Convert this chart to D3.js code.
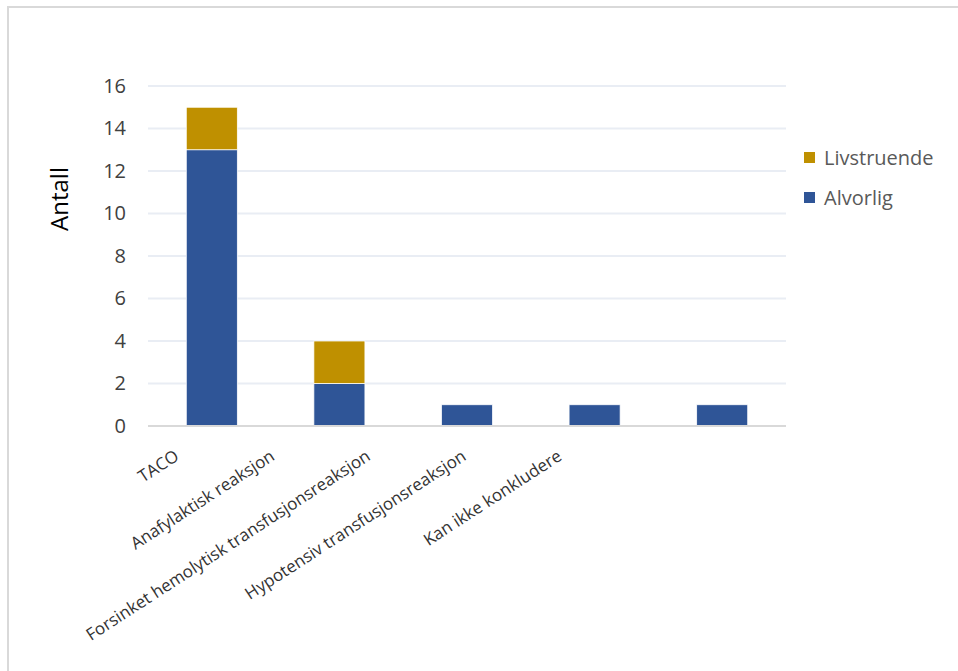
<!DOCTYPE html>
<html>
<head>
<meta charset="utf-8">
<script src="https://cdn.jsdelivr.net/npm/d3@7"></script>
<style>
body{margin:0;background:#fff;}
svg{display:block;font-family:"Open Sans","Noto Sans",sans-serif;}
</style>
</head>
<body>
<div id="chart"></div>
<script>
// data
var categories = ["TACO","Anafylaktisk reaksjon","Forsinket hemolytisk transfusjonsreaksjon","Hypotensiv transfusjonsreaksjon","Kan ikke konkludere"];
var alvorlig = [13,2,1,1,1];
var livstruende = [2,2,0,0,0];
var seriesNames = ["Alvorlig","Livstruende"];
var seriesColors = ["#2F5597","#BF9000"];
var yTicks = [0,2,4,6,8,10,12,14,16];

var W = 958, H = 671;
var margin = {left:148, right:172, top:86, bottom:245};

var svg = d3.select("#chart").append("svg").attr("width",W).attr("height",H);

// border (top + left only visible)
svg.append("line").attr("x1",7).attr("x2",W).attr("y1",7).attr("y2",7).attr("stroke","#d9d9d9").attr("stroke-width",2);
svg.append("line").attr("x1",8).attr("x2",8).attr("y1",6).attr("y2",H).attr("stroke","#d9d9d9").attr("stroke-width",2);

var x = d3.scaleBand().domain(categories).range([margin.left, W-margin.right]).paddingInner(0.6).paddingOuter(0.3);
var y = d3.scaleLinear().domain([0,16]).range([H-margin.bottom, margin.top]);

// gridlines
svg.append("g").selectAll("line").data(yTicks.filter(function(d){return d>0;})).enter().append("line")
	.attr("x1",margin.left).attr("x2",W-margin.right)
	.attr("y1",function(d){return y(d);}).attr("y2",function(d){return y(d);})
	.attr("stroke","#e9edf4").attr("stroke-width",2);

// stacked bars
var rows = categories.map(function(c,i){return {cat:c, Alvorlig:alvorlig[i], Livstruende:livstruende[i]};});
var stack = d3.stack().keys(seriesNames)(rows);
svg.append("g").selectAll("g").data(stack).enter().append("g")
	.attr("fill",function(d,i){return seriesColors[i];})
	.selectAll("rect").data(function(d){return d.filter(function(v){return v[1]-v[0]>0;});}).enter().append("rect")
	.attr("x",function(d){return x(d.data.cat);})
	.attr("width",x.bandwidth())
	.attr("y",function(d){return y(d[1]);})
	.attr("height",function(d){return y(d[0])-y(d[1]);})
	.attr("stroke","#fff").attr("stroke-width",0.75);

// x axis line
svg.append("line").attr("x1",margin.left).attr("x2",W-margin.right)
	.attr("y1",y(0)).attr("y2",y(0)).attr("stroke","#d9d9d9").attr("stroke-width",2);

// y axis
var yAxis = svg.append("g").attr("transform","translate("+(margin.left-22)+",0)")
	.call(d3.axisLeft(y).tickValues(yTicks).tickSize(0).tickPadding(0));
yAxis.select(".domain").remove();
yAxis.selectAll("text").attr("font-size","20px").attr("fill","#404040").attr("font-family","Open Sans, Noto Sans, sans-serif");

// x labels (rotated)
var labelPos = d3.scalePoint().domain(categories).range([180,563]);
svg.append("g").selectAll("text").data(categories).enter().append("text")
	.attr("transform",function(d){return "translate("+labelPos(d)+","+(y(0)+33)+") rotate(-33)";})
	.attr("text-anchor","end")
	.attr("font-size","17px")
	.attr("fill","#333")
	.text(function(d){return d;});

// y title
svg.append("text").attr("transform","translate(68,199) rotate(-90)")
	.attr("text-anchor","middle").attr("font-size","24px").attr("fill","#000").text("Antall");

// legend
var legendItems = [{name:"Livstruende",color:seriesColors[1]},{name:"Alvorlig",color:seriesColors[0]}];
var lg = svg.append("g").selectAll("g").data(legendItems).enter().append("g")
	.attr("transform",function(d,i){return "translate(804,"+(152+i*40)+")";});
lg.append("rect").attr("width",11).attr("height",11).attr("fill",function(d){return d.color;});
lg.append("text").attr("x",20).attr("y",6).attr("dy","0.35em").attr("font-size","20px").attr("fill","#595959")
	.text(function(d){return d.name;});
</script>
</body>
</html>
